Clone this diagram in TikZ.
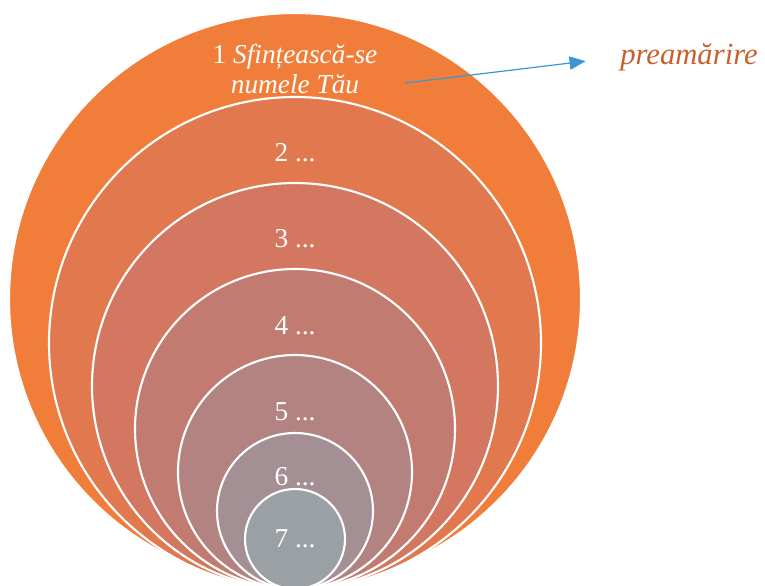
\documentclass[tikz,border=0pt]{standalone}
\usepackage{fontspec}
\setmainfont{Liberation Serif}
\usetikzlibrary{arrows.meta}
\definecolor{ring1}{RGB}{240,126,58}
\definecolor{ring2}{RGB}{226,120,78}
\definecolor{ring3}{RGB}{211,119,97}
\definecolor{ring4}{RGB}{194,123,112}
\definecolor{ring5}{RGB}{178,131,129}
\definecolor{ring6}{RGB}{164,144,148}
\definecolor{ring7}{RGB}{155,160,164}
\definecolor{arrblue}{RGB}{61,149,209}
\definecolor{preorange}{RGB}{200,96,46}
\begin{document}
\begin{tikzpicture}[x=0.75pt,y=-0.75pt,
  ring/.style={circle,draw=white,line width=1.6pt,inner sep=0pt},
  lbl/.style={text=white,align=center,font=\fontsize{20.5}{23}\selectfont}]
\useasboundingbox (0,0) rectangle (765,586);
\clip (0,0) rectangle (765,586);
% nested circles, all touching at the bottom
\foreach \i/\r/\cy in {1/286/299,2/246/343,3/203/386,4/160/429,5/117/472,6/78/511,7/50/539}{
  \node[ring,fill=ring\i,minimum size=\r*1.5pt] (c\i) at (295,\cy) {};}
% labels
\node[lbl] (l1) at (295,69) {1 \textit{Sfințească-se}\\\textit{numele Tău}};
\node[lbl] (l2) at (295,153) {2 ...};
\node[lbl] (l3) at (295,239) {3 ...};
\node[lbl] (l4) at (295,326) {4 ...};
\node[lbl] (l5) at (295,412) {5 ...};
\node[lbl] (l6) at (295,477) {6 ...};
\node[lbl] (l7) at (295,539) {7 ...};
% arrow to the word outside
\coordinate (arrs) at (405,83);
\node[anchor=west,inner sep=0pt,text=preorange,font=\fontsize{23}{26}\selectfont\itshape] (pre) at (620,57) {preamărire};
\draw[arrblue,line width=0.9pt,-{Triangle[length=12pt,width=10pt]},shorten >=26pt] (arrs) -- (pre.west);
\end{tikzpicture}
\end{document}
